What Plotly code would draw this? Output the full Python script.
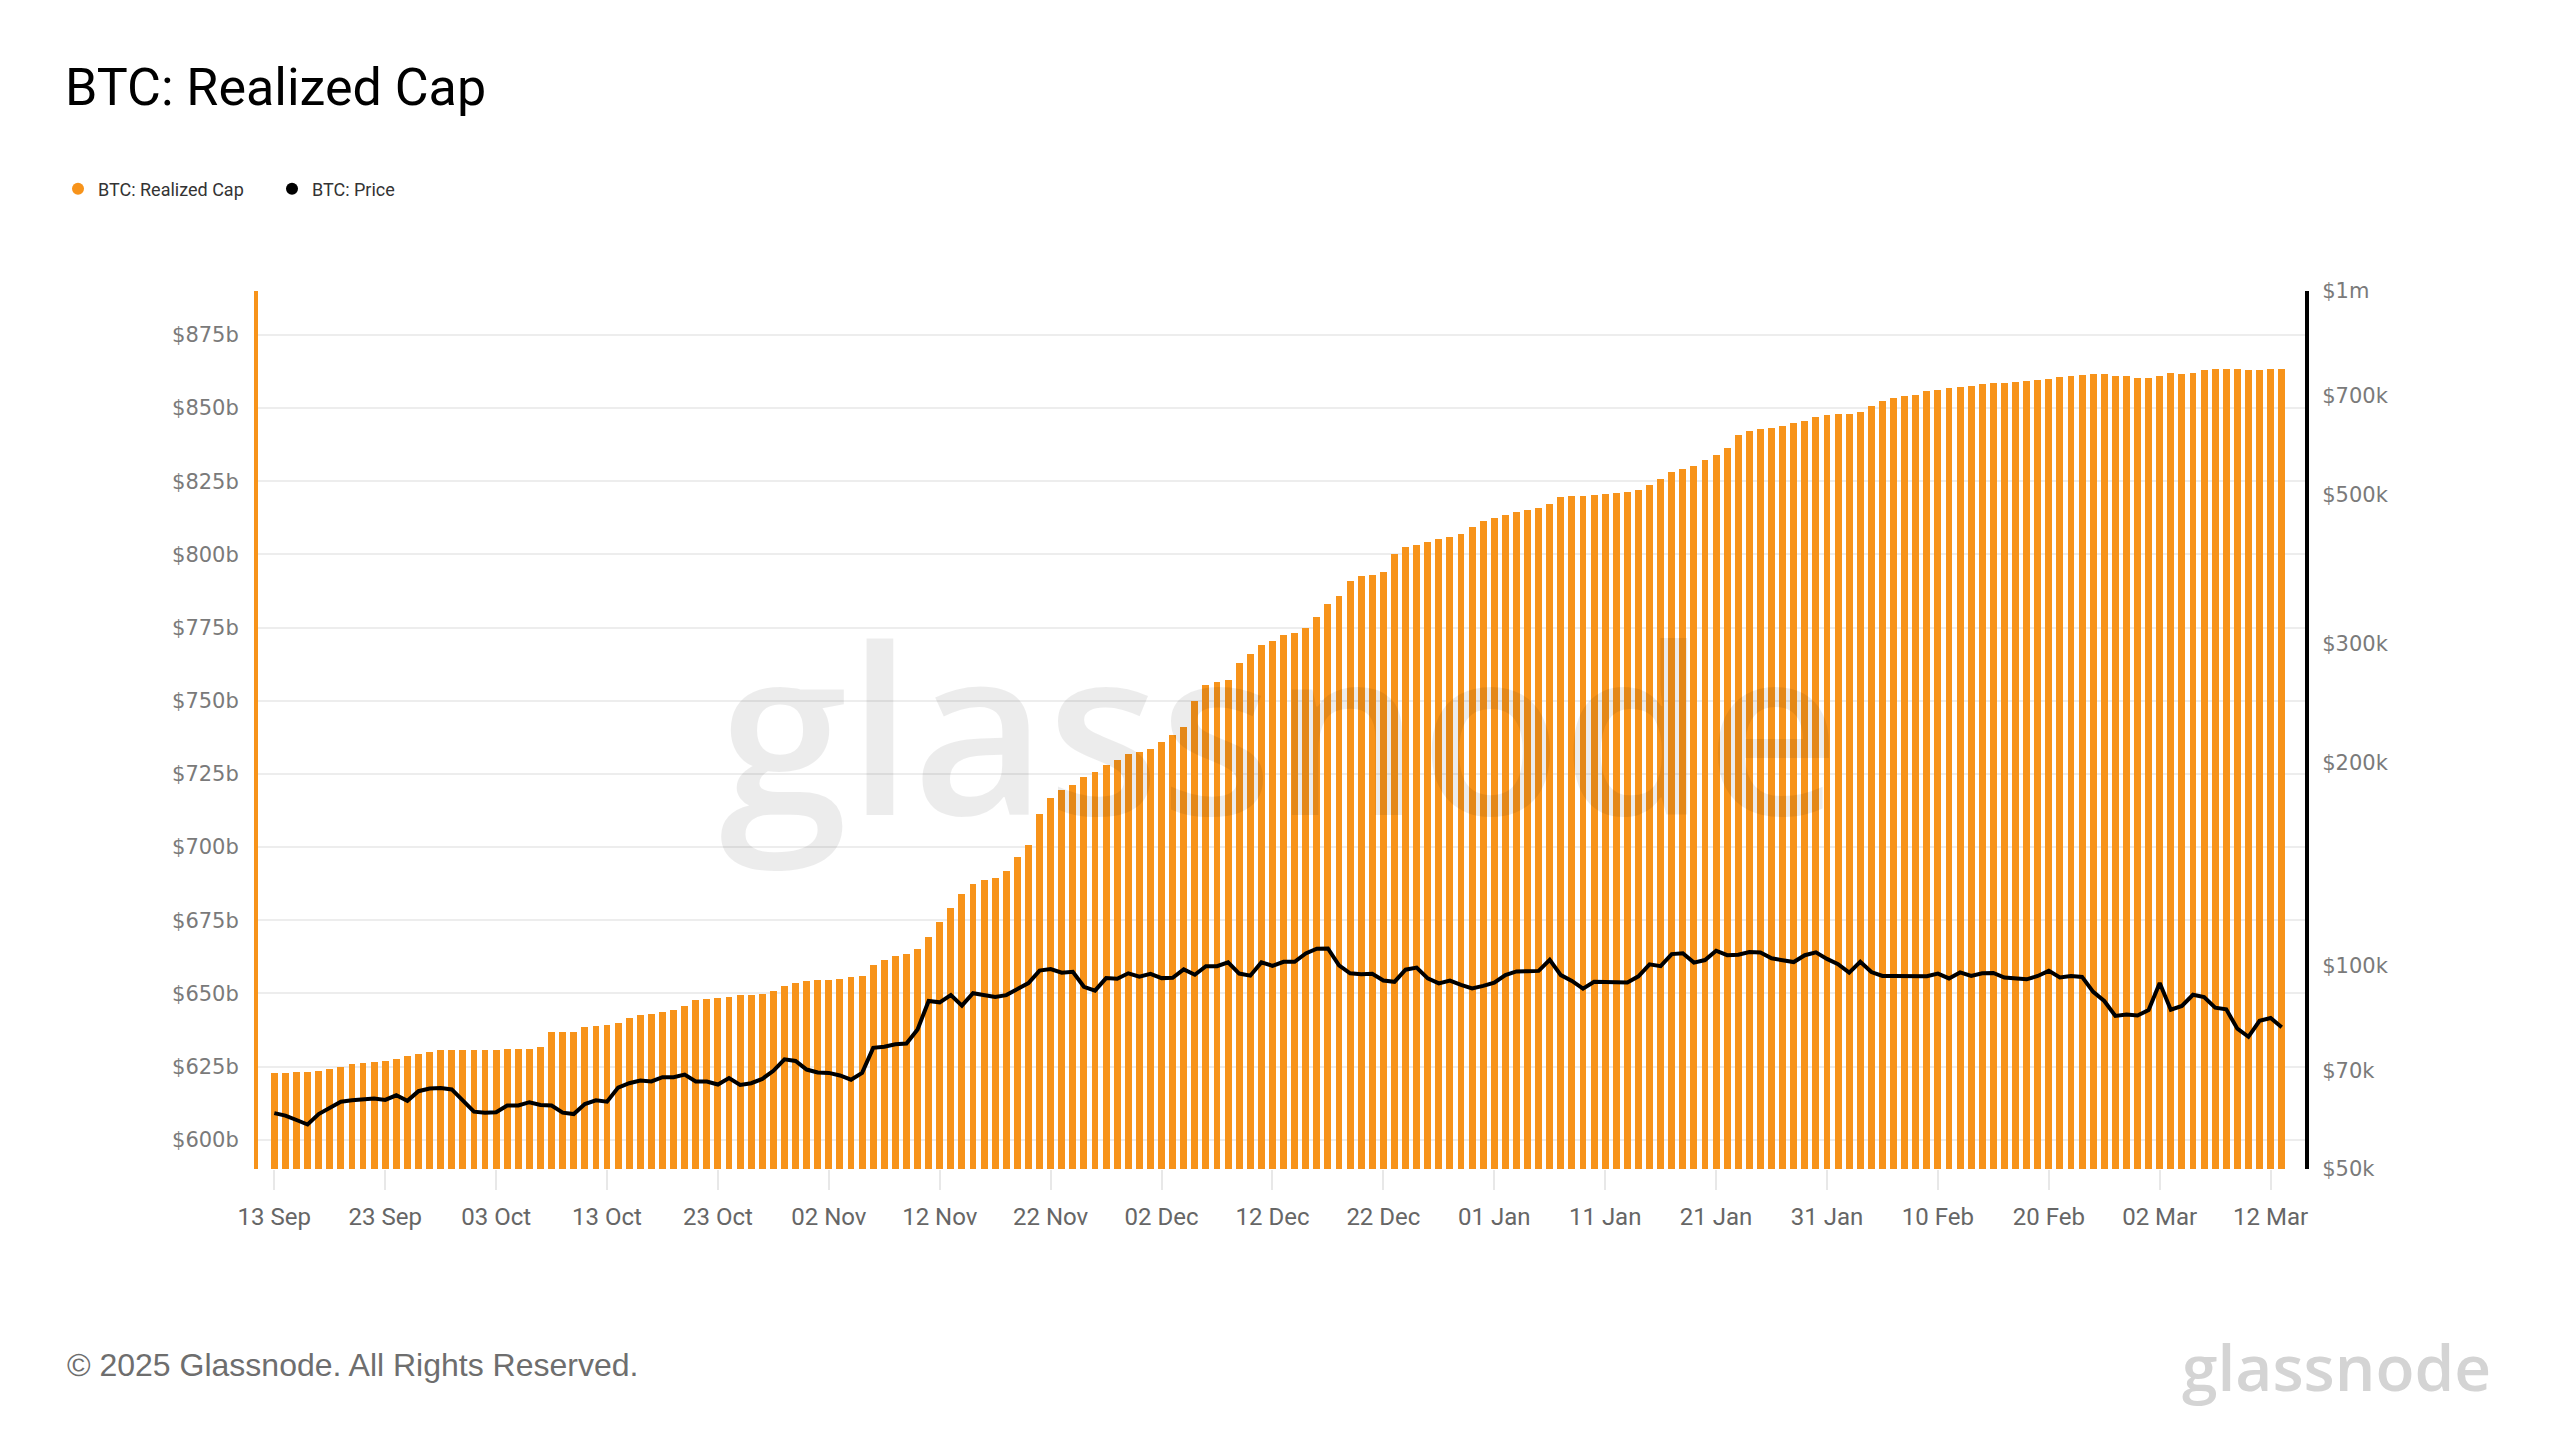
import math
import pandas as pd
import plotly.graph_objects as go

# ---------------- data ----------------
START_DATE = "2024-09-13"

# BTC realized cap, billions USD (daily, 13 Sep 2024 -> 13 Mar 2025)
realized_cap_sep = [622.7, 622.7, 623.1, 623.1, 623.5, 624.0, 624.8, 625.8, 626.1, 626.4,
                    627.0, 627.6, 628.5, 629.2, 629.9, 630.5, 630.6, 630.7]
realized_cap_oct = [630.7, 630.6, 630.5, 630.9, 631.0, 631.0, 631.6, 636.8, 636.8, 636.7,
                    638.5, 638.9, 639.2, 639.9, 641.6, 642.5, 643.0, 643.7, 644.3, 645.8,
                    647.7, 648.2, 648.4, 648.9, 649.3, 649.5, 649.8, 650.7, 652.5, 653.5, 654.2]
realized_cap_nov = [654.6, 654.7, 654.9, 655.6, 656.1, 659.6, 661.3, 662.8, 663.5, 665.2,
                    669.3, 674.5, 679.3, 684.1, 687.4, 688.6, 689.3, 691.9, 696.6, 700.7,
                    711.3, 716.7, 719.6, 721.1, 724.0, 725.6, 727.9, 729.7, 731.9, 732.6]
realized_cap_dec = [733.4, 735.8, 738.3, 741.1, 750.0, 755.4, 756.4, 757.2, 763.0, 765.8,
                    768.9, 770.4, 772.3, 773.2, 774.7, 778.5, 783.1, 785.7, 790.8, 792.6,
                    793.1, 793.9, 800.1, 802.5, 803.3, 804.1, 805.4, 805.9, 807.0, 809.5, 811.4]
realized_cap_jan = [812.4, 813.6, 814.4, 815.3, 815.7, 817.2, 819.7, 819.8, 819.8, 820.4,
                    820.7, 820.9, 821.2, 822.1, 823.6, 825.8, 828.0, 829.3, 830.2, 832.3,
                    834.1, 836.4, 840.9, 842.3, 842.9, 843.1, 843.9, 845.0, 845.5, 846.8, 847.6]
realized_cap_feb = [848.0, 848.0, 848.5, 850.7, 852.4, 853.5, 854.1, 854.3, 855.7, 856.2,
                    856.9, 857.2, 857.7, 858.1, 858.6, 858.7, 858.9, 859.2, 859.5, 860.0,
                    860.6, 861.1, 861.3, 861.6, 861.5, 861.0, 861.0, 860.2]
realized_cap_mar = [860.4, 861.0, 861.9, 861.5, 861.9, 863.1, 863.2, 863.2, 863.2, 863.1,
                    863.1, 863.4, 863.5]

# BTC price, thousands USD
price_sep = [60.5, 60.0, 59.1, 58.2, 60.3, 61.7, 62.9, 63.2, 63.3, 63.6,
             63.3, 64.3, 63.1, 65.2, 65.8, 65.9, 65.6, 63.3]
price_oct = [60.8, 60.6, 60.7, 62.1, 62.1, 62.8, 62.2, 62.1, 60.6, 60.3,
             62.4, 63.2, 62.9, 66.0, 67.0, 67.6, 67.4, 68.4, 68.4, 69.0,
             67.4, 67.4, 66.7, 68.2, 66.6, 67.0, 68.0, 69.9, 72.7, 72.3, 70.2]
price_nov = [69.5, 69.4, 68.8, 67.8, 69.4, 75.6, 75.9, 76.5, 76.7, 80.5,
             88.7, 88.3, 90.5, 87.3, 91.1, 90.6, 89.9, 90.5, 92.3, 94.3,
             98.4, 98.9, 97.7, 98.0, 93.1, 91.9, 95.9, 95.7, 97.5, 96.4]
price_dec = [97.3, 95.9, 96.0, 98.8, 97.0, 99.9, 99.9, 101.2, 97.4, 96.7,
             101.2, 100.0, 101.4, 101.4, 104.3, 106.0, 106.1, 100.2, 97.5, 97.2,
             97.3, 95.1, 94.7, 98.7, 99.4, 95.8, 94.2, 95.1, 93.7, 92.6, 93.4]
price_jan = [94.4, 96.9, 98.1, 98.2, 98.3, 102.1, 96.9, 95.0, 92.5, 94.7,
             94.6, 94.5, 94.5, 96.5, 100.5, 99.9, 104.1, 104.4, 101.1, 102.0,
             105.3, 103.7, 103.9, 104.8, 104.7, 102.6, 102.0, 101.3, 103.7, 104.7, 102.4]
price_feb = [100.6, 97.7, 101.4, 97.9, 96.6, 96.6, 96.5, 96.5, 96.5, 97.4,
             95.8, 97.8, 96.6, 97.5, 97.6, 96.1, 95.8, 95.5, 96.6, 98.3,
             96.1, 96.6, 96.3, 91.5, 88.7, 84.3, 84.7, 84.4]
price_mar = [86.0, 94.3, 86.1, 87.2, 90.6, 89.9, 86.7, 86.2, 80.7, 78.5,
             82.9, 83.7, 81.1]

left_tick_vals = [600, 625, 650, 675, 700, 725, 750, 775, 800, 825, 850, 875]
left_tick_text = ["$600b", "$625b", "$650b", "$675b", "$700b", "$725b",
                  "$750b", "$775b", "$800b", "$825b", "$850b", "$875b"]
right_tick_vals = [50, 70, 100, 200, 300, 500, 700, 1000]
right_tick_text = ["$50k", "$70k", "$100k", "$200k", "$300k", "$500k", "$700k", "$1m"]

realized_cap = (realized_cap_sep + realized_cap_oct + realized_cap_nov + realized_cap_dec
                + realized_cap_jan + realized_cap_feb + realized_cap_mar)
price = price_sep + price_oct + price_nov + price_dec + price_jan + price_feb + price_mar
dates = pd.date_range(START_DATE, periods=len(realized_cap), freq="D")

# ---------------- figure ----------------
ORANGE = "#F7931A"
W, H = 2560, 1440
ML, MR, MT, MB = 258, 255, 291, 271
PW, PH = W - ML - MR, H - MT - MB


def px_x(x):
    return (x - ML) / PW


def px_y(y):
    return (H - MB - y) / PH


fig = go.Figure()
fig.add_trace(go.Bar(
    x=dates, y=realized_cap, name="BTC: Realized Cap",
    marker=dict(color=ORANGE, line=dict(width=0)),
    width=0.62 * 86400000, showlegend=False, yaxis="y",
))
fig.add_trace(go.Scatter(
    x=dates, y=price, name="BTC: Price", mode="lines",
    line=dict(color="#000000", width=4), showlegend=False, yaxis="y2",
))
# legend entries with round markers
fig.add_trace(go.Scatter(x=[None], y=[None], mode="markers", name="BTC: Realized Cap",
                         marker=dict(color=ORANGE, size=12, symbol="circle")))
fig.add_trace(go.Scatter(x=[None], y=[None], mode="markers", name="BTC: Price",
                         marker=dict(color="#000000", size=12, symbol="circle")))

fig.update_layout(
    width=W, height=H,
    margin=dict(l=ML, r=MR, t=MT, b=MB, autoexpand=False),
    paper_bgcolor="white", plot_bgcolor="white",
    bargap=0,
    title=dict(text="BTC: Realized Cap", x=65 / W, xanchor="left", xref="container",
               y=1 - 87 / H, yanchor="middle", yref="container",
               font=dict(family="Roboto", size=52, color="#000000")),
    legend=dict(orientation="h", xref="container", yref="container",
                x=58 / W, y=1 - 189 / H, xanchor="left", yanchor="middle",
                font=dict(family="Roboto", size=18, color="#333333"),
                itemwidth=30, entrywidthmode="pixels", entrywidth=169,
                bgcolor="rgba(0,0,0,0)"),
    xaxis=dict(
        type="date",
        range=["2024-09-11 12:43", "2025-03-15 02:24"],
        tick0=START_DATE, dtick=10 * 86400000, tickformat="%d %b",
        ticks="outside", ticklen=20, tickwidth=2, tickcolor="#e8e8e8",
        showgrid=False,
        showline=False, zeroline=False,
        tickfont=dict(family="Roboto", size=24, color="#666666"),
        ticklabelstandoff=6,
    ),
    yaxis=dict(
        range=[590, 890], tickvals=left_tick_vals, ticktext=left_tick_text,
        showgrid=True, gridcolor="#ededed", gridwidth=1.5, zeroline=False,
        showline=True, linecolor=ORANGE, linewidth=4, ticks="",
        tickfont=dict(family="DejaVu Sans", size=21, color="#7a7a7a"),
        ticklabelstandoff=11,
    ),
    yaxis2=dict(
        overlaying="y", side="right", type="log",
        range=[math.log10(50), 3], tickvals=right_tick_vals, ticktext=right_tick_text,
        showgrid=False, zeroline=False,
        showline=True, linecolor="#000000", linewidth=4, ticks="",
        tickfont=dict(family="DejaVu Sans", size=21, color="#7a7a7a"),
        ticklabelstandoff=9,
    ),
    annotations=[
        dict(text="glassnode", xref="paper", yref="paper", x=px_x(1279), y=px_y(725),
             xanchor="center", yanchor="middle", showarrow=False,
             font=dict(family="Open Sans, sans-serif", size=232, weight=600,
                       color="rgba(0,0,0,0.075)")),
        dict(text="© 2025 Glassnode. All Rights Reserved.", xref="paper", yref="paper",
             x=px_x(65), y=px_y(1365), xanchor="left", yanchor="middle", showarrow=False,
             font=dict(family="Liberation Sans", size=32, color="#6e6e6e")),
        dict(text="glassnode", xref="paper", yref="paper", x=px_x(2493), y=px_y(1366),
             xanchor="right", yanchor="middle", showarrow=False,
             font=dict(family="Open Sans, sans-serif", size=64, weight=600, color="#d4d4d4")),
    ],
)

fig.write_html("out.html", config={"displayModeBar": False},
               post_script="document.body.style.margin='0';document.body.style.overflow='hidden';")
